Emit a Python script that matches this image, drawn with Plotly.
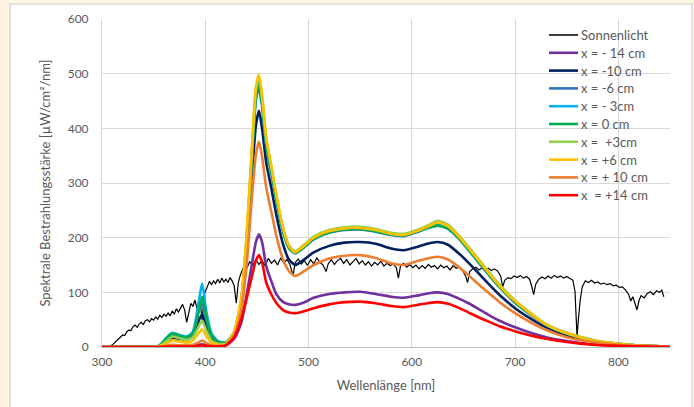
import plotly.graph_objects as go

# ---------------- data ----------------
sun_x = [305, 308, 310, 312, 314, 316, 318, 320, 322, 324, 326, 328, 330, 332, 334, 336, 338, 340, 342, 344,
         346, 348, 350, 352, 354, 356, 358, 360, 362, 364, 366, 368, 370, 372, 374, 376, 378, 380, 382, 384,
         386, 388, 390, 392, 393, 395, 397, 399, 402, 404, 406, 408, 410, 412, 414, 416, 418, 420, 422, 424,
         426, 428, 430, 432, 434, 436, 438, 440, 443, 446, 449, 452, 455, 458, 461, 464, 467, 470, 473, 476,
         479, 482, 485, 487, 490, 493, 496, 499, 502, 505, 508, 511, 514, 517, 519, 522, 525, 528, 531, 534,
         537, 540, 543, 546, 549, 552, 555, 558, 561, 564, 567, 570, 573, 576, 579, 582, 585, 587, 589, 592,
         595, 598, 601, 604, 607, 610, 613, 616, 619, 622, 625, 628, 631, 634, 637, 640, 643, 646, 649, 652,
         654, 656, 659, 662, 665, 668, 671, 674, 677, 680, 683, 686, 688, 690, 693, 696, 699, 702, 705, 708,
         711, 714, 716, 718, 720, 723, 726, 729, 732, 735, 738, 741, 744, 747, 750, 753, 756, 758, 759, 760,
         761, 763, 765, 768, 771, 774, 777, 780, 783, 786, 789, 792, 795, 798, 801, 804, 807, 810, 812, 814,
         816, 818, 820, 822, 825, 828, 831, 834, 837, 840, 842, 844]
sun_y = [0, 1, 4, 8, 12, 14, 19, 22, 21, 28, 31, 30, 37, 40, 36, 42, 45, 41, 48, 50,
         46, 52, 49, 55, 51, 58, 54, 60, 56, 62, 57, 66, 60, 70, 64, 72, 78, 68, 45, 62,
         80, 74, 86, 70, 52, 84, 48, 96, 112, 120, 114, 121, 116, 124, 117, 126, 119, 124, 118, 127,
         121, 112, 80, 118, 132, 140, 150, 143, 156, 149, 160, 151, 158, 148, 162, 153, 159, 150, 163, 154,
         160, 151, 130, 154, 161, 152, 158, 149, 160, 152, 163, 155, 150, 138, 152, 160, 151, 158, 162, 153,
         160, 150, 157, 162, 152, 158, 150, 156, 148, 155, 150, 157, 148, 153, 149, 152, 145, 126, 148, 153,
         146, 151, 145, 150, 143, 149, 144, 151, 146, 149, 143, 150, 145, 148, 141, 149, 144, 147, 140, 130,
         118, 138, 143, 146, 141, 145, 139, 144, 140, 143, 139, 130, 110, 122, 127, 125, 130, 127, 131, 126,
         129, 124, 112, 96, 115, 124, 128, 125, 130, 126, 131, 127, 130, 126, 129, 125, 122, 102, 40, 18,
         45, 85, 110, 121, 118, 122, 117, 119, 115, 117, 114, 116, 112, 113, 109, 110, 104, 96, 84, 92,
         80, 68, 85, 94, 90, 98, 101, 96, 103, 100, 104, 92]

led_x = [300, 340, 355, 362, 368, 375, 382, 388, 393, 397,
         401, 406, 412, 420, 428, 435, 440, 445, 449, 452,
         455, 459, 464, 469, 475, 481, 487, 495, 505, 520,
         535, 550, 565, 580, 592, 605, 615, 625, 635, 645,
         655, 665, 675, 685, 700, 715, 730, 750, 775, 800,
         825, 850]

led_m14 = [0, 0, 0, 1, 2, 2, 1, 2, 4, 5, 3, 1, 1, 3, 15, 45, 95, 150, 192, 206,
           192, 148, 120, 96, 83, 78, 77, 81, 90, 97, 100, 101, 97, 92, 90, 94, 98, 100, 97, 89,
           80, 69, 58, 48, 36, 26, 18, 11, 5, 2, 1, 0]
led_m10 = [0, 0, 1, 10, 17, 15, 13, 19, 45, 60, 38, 15, 7, 6, 24, 75, 170, 305, 405, 432,
           400, 338, 290, 240, 190, 160, 150, 159, 173, 185, 191, 192, 189, 180, 177, 183, 189, 192, 187, 172,
           154, 134, 114, 95, 71, 52, 36, 21, 10, 5, 2, 1]
led_m6 = [0, 0, 2, 13, 22, 19, 16, 24, 62, 80, 50, 20, 9, 7, 26, 84, 190, 338, 452, 474,
          440, 368, 318, 266, 213, 181, 171, 181, 197, 209, 214, 215, 211, 205, 203, 210, 217, 222, 216, 199,
          177, 154, 131, 109, 81, 59, 40, 24, 12, 6, 2, 1]
led_m3 = [0, 0, 2, 16, 26, 22, 19, 28, 75, 116, 65, 25, 11, 8, 27, 88, 198, 350, 465, 490,
          452, 377, 326, 272, 218, 184, 173, 183, 200, 212, 216, 217, 213, 207, 205, 212, 219, 225, 219, 201,
          179, 156, 133, 111, 83, 61, 41, 25, 12, 6, 2, 1]
led_0 = [0, 0, 2, 15, 25, 21, 18, 25, 60, 92, 55, 22, 10, 8, 28, 85, 190, 340, 455, 482,
         445, 370, 320, 268, 215, 182, 172, 182, 198, 210, 215, 216, 212, 206, 204, 211, 218, 222, 217, 200,
         178, 155, 132, 110, 82, 60, 41, 25, 12, 6, 2, 1]
led_p3 = [0, 0, 1, 10, 19, 16, 13, 18, 35, 48, 30, 12, 6, 6, 28, 90, 200, 355, 470, 495,
          458, 382, 330, 276, 220, 186, 175, 186, 202, 214, 219, 220, 216, 209, 207, 214, 222, 231, 224, 205,
          183, 160, 136, 114, 85, 62, 42, 26, 13, 6, 2, 1]
led_p6 = [0, 0, 1, 6, 12, 10, 8, 12, 24, 32, 20, 8, 4, 5, 28, 92, 205, 360, 475, 498,
          460, 384, 330, 276, 220, 185, 173, 184, 200, 212, 217, 218, 214, 207, 205, 212, 220, 228, 221, 203,
          181, 158, 134, 112, 84, 61, 41, 25, 12, 6, 2, 1]
led_p10 = [0, 0, 0, 2, 4, 3, 3, 4, 8, 12, 7, 3, 2, 4, 22, 68, 150, 270, 352, 376,
           348, 292, 247, 202, 162, 139, 130, 138, 150, 162, 167, 168, 163, 153, 150, 157, 162, 165, 160, 147,
           131, 114, 98, 82, 62, 45, 31, 18, 9, 4, 2, 1]
led_p14 = [0, 0, 0, 1, 1, 1, 1, 1, 2, 3, 2, 1, 1, 3, 18, 52, 88, 128, 158, 168,
           155, 118, 96, 80, 68, 63, 62, 65, 71, 78, 82, 83, 80, 75, 73, 77, 80, 82, 79, 72,
           63, 54, 46, 38, 29, 21, 15, 9, 4, 2, 1, 0]

series_names = ["x = - 14 cm", "x = -10 cm", "x = -6 cm", "x = - 3cm", "x = 0 cm",
                "x =  +3cm", "x = +6 cm", "x = + 10 cm", "x  = +14 cm"]
series_values = [led_m14, led_m10, led_m6, led_m3, led_0, led_p3, led_p6, led_p10, led_p14]
series_colors = ["#7030A0", "#002060", "#2E75B6", "#00B0F0", "#00B050",
                 "#92D050", "#FFC000", "#ED7D31", "#FF0000"]

x_ticks = [300, 400, 500, 600, 700, 800]
y_ticks = [0, 100, 200, 300, 400, 500, 600]

# ---------------- figure ----------------
FONT = "Lato, 'Open Sans', sans-serif"
GRAY_TXT = "#595959"
GRID = "#D9D9D9"

# plot-area geometry in pixels (for placing the hand-built legend)
W, H = 694, 407
ML, MR, MT, MB = 102, 24, 19, 60
PW, PH = W - ML - MR, H - MT - MB


def px_to_paper_x(px):
    return (px - ML) / PW


def px_to_paper_y(py):
    return (H - MB - py) / PH


fig = go.Figure()
fig.add_trace(go.Scatter(x=sun_x, y=sun_y, mode="lines", name="Sonnenlicht",
                         line=dict(color="#000000", width=1.2)))
for name, vals, col in zip(series_names, series_values, series_colors):
    fig.add_trace(go.Scatter(x=led_x, y=vals, mode="lines", name=name,
                             line=dict(color=col, width=2.6, shape="spline", smoothing=0.6)))

# outer white panel on cream background
fig.add_shape(type="rect", xref="paper", yref="paper",
              x0=px_to_paper_x(10), x1=px_to_paper_x(692), y0=-0.3, y1=px_to_paper_y(4),
              fillcolor="#FFFFFF", line=dict(color="#D9D9D9", width=1.5), layer="below")

# legend (Excel-style compact spacing)
legend_names = ["Sonnenlicht"] + series_names
legend_colors = ["#000000"] + series_colors
legend_widths = [1.5] + [2.6] * len(series_names)
for i, (nm, col, lw) in enumerate(zip(legend_names, legend_colors, legend_widths)):
    yc = 35 + i * 17.8
    fig.add_shape(type="line", xref="paper", yref="paper",
                  x0=px_to_paper_x(549), x1=px_to_paper_x(578),
                  y0=px_to_paper_y(yc), y1=px_to_paper_y(yc),
                  line=dict(color=col, width=lw), layer="above")
    fig.add_annotation(xref="paper", yref="paper", x=px_to_paper_x(579), y=px_to_paper_y(yc),
                       text=nm, showarrow=False, xanchor="left", yanchor="middle",
                       font=dict(family=FONT, size=13, color=GRAY_TXT))

fig.update_layout(
    width=W, height=H,
    margin=dict(l=ML, r=MR, t=MT, b=MB),
    paper_bgcolor="#FEF4E1",
    plot_bgcolor="#FFFFFF",
    font=dict(family=FONT, size=12, color=GRAY_TXT),
    showlegend=False,
)
fig.update_xaxes(range=[300, 850], tickvals=x_ticks, ticktext=[str(v) for v in x_ticks],
                 showgrid=True, gridcolor=GRID, gridwidth=1,
                 showline=True, linecolor="#BFBFBF", linewidth=1, zeroline=False,
                 ticks="", ticklabelstandoff=4,
                 title=dict(text="Wellenlänge [nm]", font=dict(size=13, color=GRAY_TXT), standoff=12))
fig.update_yaxes(range=[0, 600], tickvals=y_ticks, ticktext=[str(v) for v in y_ticks],
                 showgrid=True, gridcolor=GRID, gridwidth=1,
                 showline=True, linecolor=GRID, linewidth=1, zeroline=False,
                 ticks="", ticklabelstandoff=10,
                 title=dict(text="Spektrale Bestrahlungsstärke [µW/cm²/nm]",
                            font=dict(size=13, color=GRAY_TXT), standoff=14))

fig.write_html("out.html")
